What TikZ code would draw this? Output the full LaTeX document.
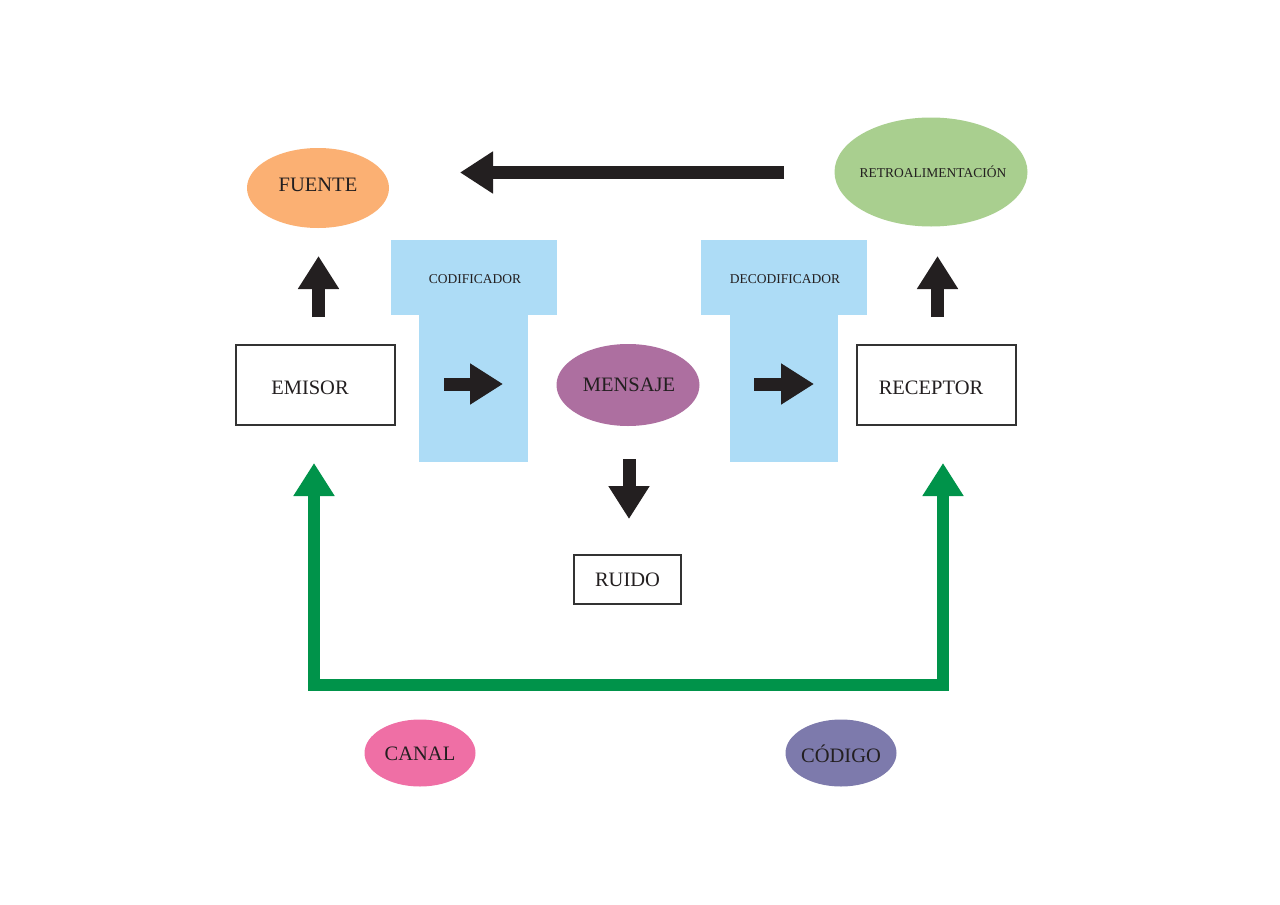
\documentclass[tikz,border=0pt]{standalone}
\usepackage{fontspec}
\setmainfont{Liberation Serif}
\usetikzlibrary{shapes.geometric,arrows.meta}
\definecolor{txt}{HTML}{231F20}
\definecolor{dark}{HTML}{231F20}
\definecolor{boxc}{HTML}{333333}
\definecolor{fuentec}{HTML}{FBB073}
\definecolor{retroc}{HTML}{A9CF8F}
\definecolor{tblue}{HTML}{ADDCF6}
\definecolor{mensc}{HTML}{AD6FA0}
\definecolor{canalc}{HTML}{EF6FA5}
\definecolor{codigoc}{HTML}{7D7AAC}
\definecolor{gline}{HTML}{00934A}
\begin{document}
\begin{tikzpicture}[x=1pt,y=-1pt,
  lbl/.style={font=\fontsize{20.5}{24}\selectfont, text=txt, inner sep=0pt},
  smalllbl/.style={font=\fontsize{13.5}{16}\selectfont, text=txt, inner sep=0pt},
  oval/.style={ellipse, draw=none, inner sep=0pt},
  box/.style={rectangle, draw=boxc, line width=1.3pt, fill=white, inner sep=0pt},
  blk/.style={draw=dark, line width=13pt, -{Triangle[width=39pt,length=33pt]}},
  garrow/.style={draw=gline, line width=12pt, line join=miter,
     {Triangle[width=39pt,length=33pt]}-{Triangle[width=39pt,length=33pt]}}
]
\useasboundingbox (0,0) rectangle (1280,905);
\fill[white] (0,0) rectangle (1280,905);

% T-shaped blocks
\fill[tblue] (391,240) rectangle (557,315);
\fill[tblue] (419,314) rectangle (528,462);
\fill[tblue] (701,240) rectangle (867,315);
\fill[tblue] (730,314) rectangle (838,462);
\node[smalllbl] (cod) at (475,279) {CODIFICADOR};
\node[smalllbl] (decod) at (785,279) {DECODIFICADOR};

% ovals
\node[oval, fill=fuentec, minimum width=142, minimum height=80] (fuente) at (318,188) {};
\node[lbl] (fuenteT) at (318,185) {FUENTE};
\node[oval, fill=retroc, minimum width=193, minimum height=109] (retro) at (931,172) {};
\node[smalllbl] (retroT) at (933,172) {RETROALIMENTACIÓN};
\node[oval, fill=mensc, minimum width=143, minimum height=82] (mensaje) at (628,385) {};
\node[lbl] (mensajeT) at (629,385) {MENSAJE};
\node[oval, fill=canalc, minimum width=111, minimum height=67] (canal) at (420,753) {};
\node[lbl] (canalT) at (420,754) {CANAL};
\node[oval, fill=codigoc, minimum width=111, minimum height=67] (codigo) at (841,753) {};
\node[lbl] (codigoT) at (841,754) {CÓDIGO};

% boxes
\node[box, minimum width=159, minimum height=80] (emisor) at (315.5,385) {};
\node[lbl] (emisorT) at (310,388) {EMISOR};
\node[box, minimum width=159, minimum height=80] (receptor) at (936.5,385) {};
\node[lbl] (receptorT) at (931,388) {RECEPTOR};
\node[box, minimum width=107, minimum height=49] (ruido) at (627.5,579.5) {};
\node[lbl] (ruidoT) at (627.5,580) {RUIDO};

% arrow endpoints
\coordinate (fbS) at (784,172.5);
\coordinate (fbE) at (460,172.5);
\coordinate (fuS) at (318.5,317);
\coordinate (fuE) at (318.5,256);
\coordinate (reS) at (937.5,317);
\coordinate (reE) at (937.5,256);
\coordinate (c1S) at (444,384);
\coordinate (c1E) at (503,384);
\coordinate (c2S) at (754,384);
\coordinate (c2E) at (814,384);
\coordinate (dnS) at (629,459);
\coordinate (dnE) at (629,519);
\coordinate (gL) at (314,463);
\coordinate (gBL) at (314,685);
\coordinate (gBR) at (943,685);
\coordinate (gR) at (943,463);

\draw[blk, -{Triangle[width=40pt,length=33pt]}] (fbS) -- (fbE);
\draw[blk] (fuS) -- (fuE);
\draw[blk] (reS) -- (reE);
\draw[blk] (c1S) -- (c1E);
\draw[blk] (c2S) -- (c2E);
\draw[blk] (dnS) -- (dnE);
\draw[garrow] (gL) -- (gBL) -- (gBR) -- (gR);
\end{tikzpicture}
\end{document}
